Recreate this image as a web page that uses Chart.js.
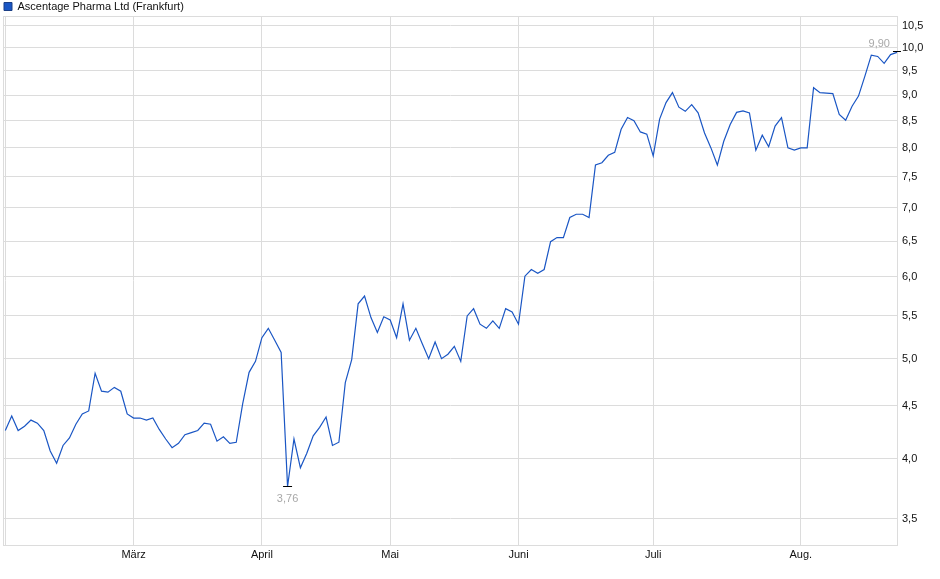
<!DOCTYPE html>
<html>
<head>
<meta charset="utf-8">
<script src="https://cdn.jsdelivr.net/npm/chart.js@4/dist/chart.umd.min.js"></script>
<style>
  html, body { margin: 0; padding: 0; background: #fff; }
  #wrap { width: 940px; height: 579px; position: relative; }
</style>
</head>
<body>
<div id="wrap"><canvas id="priceChart"></canvas></div>
<script>
// Schlusskurse (EUR), ein Wert pro Handelstag, Feb. bis Aug.
const closes = [
  4.26, 4.40, 4.26, 4.30, 4.36, 4.33, 4.26, 4.07, 3.96, 4.12,
  4.19, 4.32, 4.42, 4.45, 4.84, 4.65, 4.64, 4.69, 4.65, 4.42,
  4.38, 4.38, 4.36, 4.38, 4.27, 4.18, 4.10, 4.14, 4.22, 4.24,
  4.26, 4.33, 4.32, 4.16, 4.20, 4.14, 4.15, 4.52, 4.85, 4.97,
  5.24, 5.35, 5.21, 5.07, 3.76, 4.18, 3.92, 4.05, 4.21, 4.29,
  4.39, 4.12, 4.15, 4.74, 4.99, 5.65, 5.75, 5.48, 5.30, 5.49,
  5.45, 5.24, 5.65, 5.21, 5.35, 5.17, 5.00, 5.19, 5.00, 5.05,
  5.14, 4.97, 5.50, 5.59, 5.40, 5.35, 5.44, 5.35, 5.59, 5.55,
  5.40, 6.01, 6.10, 6.05, 6.10, 6.49, 6.55, 6.55, 6.85, 6.90,
  6.90, 6.85, 7.70, 7.74, 7.87, 7.92, 8.34, 8.56, 8.50, 8.29,
  8.25, 7.86, 8.53, 8.85, 9.05, 8.76, 8.68, 8.81, 8.65, 8.27,
  8.00, 7.70, 8.12, 8.43, 8.66, 8.69, 8.65, 7.96, 8.23, 8.02,
  8.40, 8.56, 8.00, 7.96, 8.00, 8.00, 9.15, 9.05, 9.04, 9.03,
  8.62, 8.51, 8.78, 8.98, 9.39, 9.84, 9.81, 9.66, 9.85, 9.90
];

// Handelstag-Index, an dem ein Monat beginnt (0 = Startlinie ohne Text)
const monthTicks = [0, 20, 40, 60, 80, 101, 124];
const monthNames = ['', 'März', 'April', 'Mai', 'Juni', 'Juli', 'Aug.'];

const yTicks = [3.5, 4.0, 4.5, 5.0, 5.5, 6.0, 6.5, 7.0, 7.5, 8.0, 8.5, 9.0, 9.5, 10.0, 10.5];

const seriesName = 'Ascentage Pharma Ltd (Frankfurt)';

const FONT = '"Liberation Sans", Arial, sans-serif';
const GRID = '#dcdcdc';
const LINE = '#1a56c4';

const fmt = (v) => v.toFixed(2).replace('.', ',');

// Rahmen um den Plotbereich
const framePlugin = {
  id: 'frame',
  beforeDatasetsDraw(chart) {
    const { ctx, chartArea: a } = chart;
    ctx.save();
    ctx.strokeStyle = GRID;
    ctx.lineWidth = 1;
    ctx.strokeRect(a.left + 0.5, a.top + 0.5, a.right - a.left - 1, a.bottom - a.top);
    ctx.restore();
  },
};

// Tief- und Schlusskurs markieren
const markerPlugin = {
  id: 'markers',
  afterDatasetsDraw(chart) {
    const { ctx, scales } = chart;
    const lo = Math.min(...closes);
    const loIdx = closes.indexOf(lo);
    const lastIdx = closes.length - 1;
    const last = closes[lastIdx];

    ctx.save();
    ctx.strokeStyle = '#000';
    ctx.lineWidth = 1;
    ctx.fillStyle = '#a8a8a8';
    ctx.font = '11px ' + FONT;

    let px = scales.x.getPixelForValue(loIdx);
    let py = Math.round(scales.y.getPixelForValue(lo)) + 0.5;
    ctx.beginPath();
    ctx.moveTo(px - 4.5, py);
    ctx.lineTo(px + 4.5, py);
    ctx.stroke();
    ctx.textAlign = 'center';
    ctx.textBaseline = 'top';
    ctx.fillText(fmt(lo), px, py + 7);

    px = scales.x.getPixelForValue(lastIdx);
    py = Math.round(scales.y.getPixelForValue(last)) - 0.5;
    ctx.beginPath();
    ctx.moveTo(px - 4, py);
    ctx.lineTo(px + 4, py);
    ctx.stroke();
    ctx.textAlign = 'right';
    ctx.textBaseline = 'bottom';
    ctx.fillText(fmt(last), px - 7, py - 2);
    ctx.restore();
  },
};

const ctx = document.getElementById('priceChart').getContext('2d');

new Chart(ctx, {
  type: 'line',
  data: {
    datasets: [
      {
        label: seriesName,
        data: closes.map((v, i) => ({ x: i, y: v })),
        borderColor: LINE,
        backgroundColor: LINE,
        borderWidth: 1.2,
        fill: false,
        tension: 0,
        pointRadius: 0,
        pointHoverRadius: 0,
      },
    ],
  },
  options: {
    responsive: true,
    maintainAspectRatio: false,
    animation: false,
    layout: { padding: { left: 3, top: 0, right: 0, bottom: 0 } },
    plugins: {
      tooltip: { enabled: false },
      legend: {
        position: 'top',
        align: 'start',
        maxHeight: 16,
        labels: {
          boxWidth: 8,
          boxHeight: 8,
          padding: 1,
          color: '#111',
          font: { family: FONT, size: 11 },
          generateLabels: (chart) => {
            const items = Chart.defaults.plugins.legend.labels.generateLabels(chart);
            items.forEach((it) => { it.strokeStyle = '#1b3f86'; it.lineWidth = 1; });
            return items;
          },
        },
      },
    },
    scales: {
      x: {
        type: 'linear',
        min: -0.36,
        max: 139.16,
        afterBuildTicks: (scale) => { scale.ticks = monthTicks.map((v) => ({ value: v })); },
        afterFit: (scale) => { scale.height = 34; },
        border: { display: false },
        grid: { color: GRID, drawTicks: false },
        ticks: {
          autoSkip: false,
          maxRotation: 0,
          padding: 3,
          color: '#111',
          font: { family: FONT, size: 11 },
          callback: (v) => monthNames[monthTicks.indexOf(v)] ?? '',
        },
      },
      y: {
        type: 'logarithmic',
        position: 'right',
        min: 3.313,
        max: 10.736,
        afterBuildTicks: (scale) => { scale.ticks = yTicks.map((v) => ({ value: v })); },
        afterFit: (scale) => { scale.width = 42; },
        border: { display: false },
        grid: { color: GRID, drawTicks: false },
        ticks: {
          padding: 4,
          color: '#111',
          font: { family: FONT, size: 11 },
          callback: (v) => Number(v).toFixed(1).replace('.', ','),
        },
      },
    },
  },
  plugins: [framePlugin, markerPlugin],
});
</script>
</body>
</html>
